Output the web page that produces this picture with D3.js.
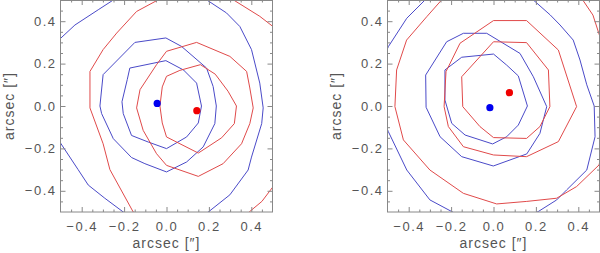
<!DOCTYPE html>
<html>
<head>
<meta charset="utf-8">
<script src="https://cdn.jsdelivr.net/npm/d3@7"></script>
<style>
  body { margin: 0; background: #fff; }
  svg { display: block; }
  text { font-family: "Liberation Sans", "DejaVu Sans", sans-serif; fill: #555; }
</style>
</head>
<body>
<div id="chart"></div>
<script>
// tick values (arcsec)
var majorTicks = [-0.4, -0.2, 0.0, 0.2, 0.4]
var minorTicks = [-0.45, -0.35, -0.3, -0.25, -0.15, -0.1, -0.05, 0.05, 0.1, 0.15, 0.25, 0.3, 0.35, 0.45]
var axisTitle = "arcsec [\u2033]"

// left panel contours (inner, middle, outer)
var leftBlue = [
  [[-0.173,0.179],[-0.003,0.214],[0.08,0.17],[0.142,0.108],[0.165,0.0],[0.15,-0.08],[0.095,-0.146],[0.0,-0.201],[-0.086,-0.170],[-0.165,-0.139],[-0.204,-0.036],[-0.210,0.02],[-0.185,0.125]],
  [[-0.299,0.148],[-0.149,0.300],[-0.003,0.321],[0.071,0.281],[0.189,0.179],[0.220,0.092],[0.235,0.0],[0.228,-0.083],[0.173,-0.193],[0.095,-0.264],[0.0,-0.311],[-0.102,-0.272],[-0.165,-0.243],[-0.251,-0.154],[-0.306,-0.036],[-0.314,0.0]],
  [[-0.503,0.316],[-0.432,0.382],[-0.322,0.454],[-0.251,0.5],[-0.05,0.6],[0.12,0.56],[0.189,0.501],[0.283,0.439],[0.346,0.375],[0.401,0.266],[0.440,0.108],[0.456,-0.009],[0.449,-0.083],[0.401,-0.241],[0.385,-0.302],[0.299,-0.419],[0.197,-0.5],[0.0,-0.62],[-0.204,-0.5],[-0.291,-0.435],[-0.369,-0.373],[-0.417,-0.30],[-0.503,-0.170],[-0.56,0.07]]
]
var leftRed = [
  [[-0.031,0.0],[-0.02,0.09],[0.0,0.140],[0.063,0.168],[0.16,0.195],[0.23,0.15],[0.29,0.07],[0.33,0.0],[0.32,-0.083],[0.26,-0.15],[0.150,-0.222],[0.0,-0.146],[-0.02,-0.08]],
  [[-0.141,-0.009],[-0.125,0.077],[-0.047,0.195],[0.0,0.258],[0.142,0.300],[0.299,0.234],[0.378,0.163],[0.393,0.085],[0.409,-0.009],[0.393,-0.083],[0.354,-0.178],[0.267,-0.272],[0.150,-0.332],[0.0,-0.280],[-0.047,-0.225],[-0.110,-0.115]],
  [[-0.361,-0.009],[-0.361,0.163],[-0.299,0.266],[-0.235,0.344],[-0.141,0.446],[-0.039,0.501],[0.1,0.58],[0.25,0.55],[0.315,0.501],[0.440,0.423],[0.502,0.375],[0.58,0.2],[0.6,0.0],[0.58,-0.3],[0.503,-0.38],[0.45,-0.45],[0.39,-0.5],[0.3,-0.6],[0.0,-0.62],[-0.157,-0.5],[-0.267,-0.30],[-0.299,-0.178]]
]
var leftBlueDot = [-0.044, 0.012]
var leftRedDot = [0.143, -0.022]

// right panel contours
var rightBlue = [
  [[-0.150,0.230],[0.0,0.245],[0.062,0.193],[0.117,0.142],[0.160,0.0],[0.117,-0.090],[0.062,-0.145],[-0.004,-0.179],[-0.134,-0.137],[-0.197,-0.082],[-0.229,0.028],[-0.229,0.170]],
  [[-0.320,0.146],[-0.221,0.303],[-0.142,0.343],[-0.032,0.343],[0.125,0.248],[0.188,0.138],[0.251,-0.003],[0.219,-0.129],[0.157,-0.226],[-0.001,-0.283],[-0.150,-0.239],[-0.252,-0.145],[-0.318,-0.006]],
  [[-0.496,0.28],[-0.409,0.414],[-0.323,0.5],[-0.1,0.6],[0.1,0.58],[0.188,0.5],[0.267,0.430],[0.314,0.382],[0.376,0.311],[0.408,0.217],[0.44,0.10],[0.475,0.0],[0.479,-0.145],[0.44,-0.302],[0.345,-0.396],[0.298,-0.443],[0.211,-0.498],[0.0,-0.6],[-0.197,-0.498],[-0.300,-0.443],[-0.409,-0.302],[-0.496,-0.121],[-0.58,0.08]]
]
var rightRed = [
  [[-0.145,-0.003],[-0.150,0.138],[0.0,0.303],[0.156,0.299],[0.259,0.170],[0.266,-0.003],[0.219,-0.097],[0.156,-0.153],[0.0,-0.149],[-0.064,-0.097]],
  [[-0.233,-0.003],[-0.224,0.162],[-0.158,0.296],[0.0,0.403],[0.156,0.403],[0.306,0.264],[0.392,-0.003],[0.306,-0.168],[0.156,-0.239],[0.0,-0.231],[-0.142,-0.192],[-0.213,-0.097]],
  [[-0.465,-0.003],[-0.457,0.170],[-0.410,0.311],[-0.315,0.421],[-0.245,0.5],[0.0,0.62],[0.3,0.6],[0.421,0.5],[0.469,0.429],[0.502,0.327],[0.56,0.0],[0.498,-0.278],[0.392,-0.380],[0.298,-0.435],[0.157,-0.45],[0.015,-0.462],[-0.142,-0.412],[-0.300,-0.302],[-0.425,-0.160]]
]
var rightBlueDot = [-0.017, -0.008]
var rightRedDot = [0.075, 0.063]

var width = 600, height = 253
var size = 212
var plotTop = 0

var svg = d3.select("#chart").append("svg")
    .attr("width", width)
    .attr("height", height)

panel("p1", 60.5, leftBlue, leftRed, leftBlueDot, leftRedDot)
panel("p2", 387.5, rightBlue, rightRed, rightBlueDot, rightRedDot)

function panel(id, left, blue, red, blueDot, redDot) {
    var x = d3.scaleLinear().domain([-0.5, 0.5]).range([left, left + size])
    var y = d3.scaleLinear().domain([-0.5, 0.5]).range([plotTop + size, plotTop])

    svg.append("clipPath").attr("id", "clip-" + id)
      .append("rect")
        .attr("x", left).attr("y", plotTop)
        .attr("width", size).attr("height", size)

    var line = d3.line()
        .x(d => x(d[0]))
        .y(d => y(d[1]))
        .curve(d3.curveLinearClosed)

    var g = svg.append("g").attr("clip-path", "url(#clip-" + id + ")")

    g.selectAll(".blue").data(blue).enter().append("path")
        .attr("d", line)
        .attr("fill", "none")
        .attr("stroke", "#4a4ac8")
        .attr("stroke-width", 1)

    g.selectAll(".red").data(red).enter().append("path")
        .attr("d", line)
        .attr("fill", "none")
        .attr("stroke", "#e04a4a")
        .attr("stroke-width", 1)

    g.append("circle").attr("cx", x(blueDot[0])).attr("cy", y(blueDot[1]))
        .attr("r", 3.6).attr("fill", "#0000f0")
    g.append("circle").attr("cx", x(redDot[0])).attr("cy", y(redDot[1]))
        .attr("r", 3.6).attr("fill", "#f00000")

    // ticks on all four sides, pointing inward
    var fmt = d => (d < 0 ? "\u2212" : "") + Math.abs(d).toFixed(1)
    var axes = [
        [d3.axisBottom(x), "translate(0," + (plotTop + size) + ")", true, false],
        [d3.axisTop(x), "translate(0," + plotTop + ")", false, false],
        [d3.axisLeft(y), "translate(" + left + ",0)", true, true],
        [d3.axisRight(y), "translate(" + (left + size) + ",0)", false, false]
    ]
    axes.forEach(function(a) {
        var major = svg.append("g").attr("transform", a[1])
            .call(a[0].tickValues(majorTicks).tickSize(-5).tickPadding(a[3] ? 4 : 10)
                .tickFormat(a[2] ? fmt : ""))
        major.select(".domain").remove()
        major.selectAll("line").attr("stroke", "#888")
        major.selectAll("text")
            .style("font-size", "13px")
            .attr("letter-spacing", "1.5px")
            .attr("fill", "#555")
        var minor = svg.append("g").attr("transform", a[1])
            .call(a[0].tickValues(minorTicks).tickSize(-2.5).tickFormat(""))
        minor.select(".domain").remove()
        minor.selectAll("line").attr("stroke", "#888")
    })

    svg.append("rect")
        .attr("x", left).attr("y", plotTop + 0.5)
        .attr("width", size).attr("height", size - 0.5)
        .attr("fill", "none")
        .attr("stroke", "#888")
        .attr("stroke-width", 1)

    svg.append("text")
        .attr("x", left + size / 2)
        .attr("y", 248)
        .attr("text-anchor", "middle")
        .attr("letter-spacing", "1px")
        .style("font-size", "14px")
        .text(axisTitle)

    svg.append("text")
        .attr("transform", "translate(" + (left - 47) + "," + (plotTop + size / 2) + ") rotate(-90)")
        .attr("text-anchor", "middle")
        .attr("letter-spacing", "1px")
        .style("font-size", "14px")
        .text(axisTitle)
}
</script>
</body>
</html>
